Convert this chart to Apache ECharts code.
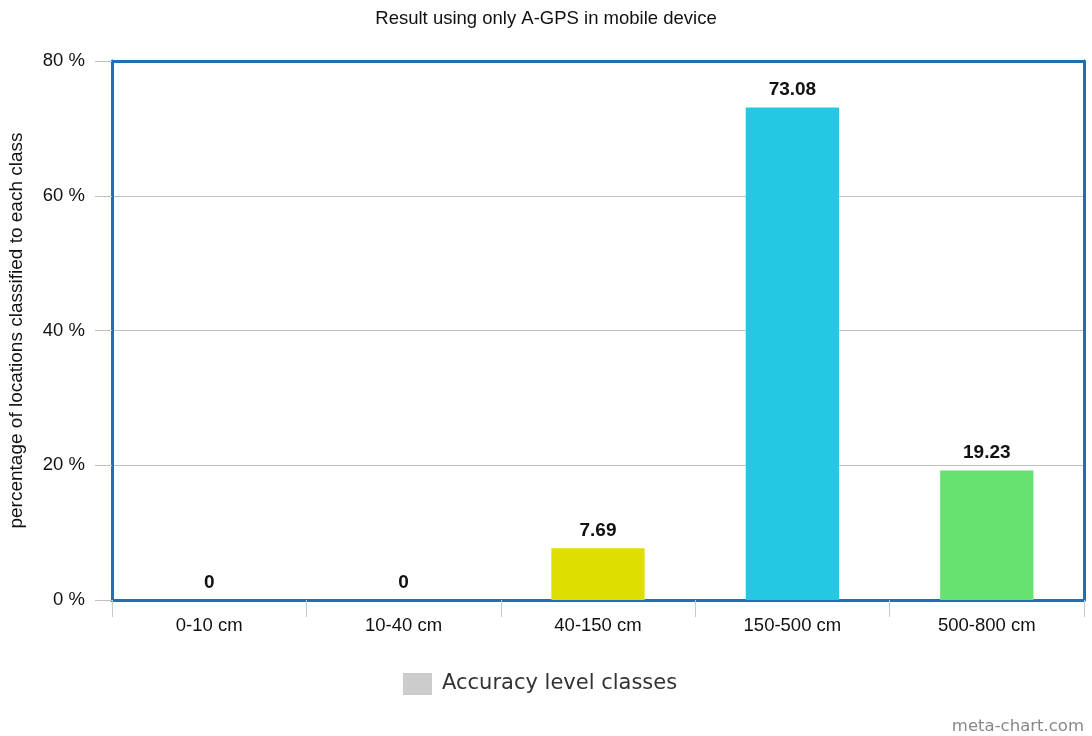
<!DOCTYPE html>
<html>
<head>
<meta charset="utf-8">
<script src="https://cdn.jsdelivr.net/npm/echarts@6/dist/echarts.min.js"></script>
<style>
  html, body { margin: 0; padding: 0; background: #fff; }
  #chart { width: 1092px; height: 736px; }
</style>
</head>
<body>
<div id="chart"></div>
<script>
// Accuracy classes and the share of locations falling in each one
const categories = ['0-10 cm', '10-40 cm', '40-150 cm', '150-500 cm', '500-800 cm'];
const percentages = [0, 0, 7.69, 73.08, 19.23];
const barColors = ['#dede00', '#dede00', '#dede00', '#24c8e2', '#66e271'];
const yTicks = [0, 20, 40, 60, 80];

const FRAME = '#1f6fb5';
const chart = echarts.init(document.getElementById('chart'));

// the plot frame is drawn with four axis lines (bottom, left, top, right)
const frameLine = { show: true, onZero: false, lineStyle: { color: FRAME, width: 3 } };

chart.setOption({
  backgroundColor: '#ffffff',
  animation: false,
  title: {
    text: 'Result using only A-GPS in mobile device',
    left: 'center',
    top: 4,
    textStyle: { fontFamily: 'Liberation Sans', fontSize: 18.5, fontWeight: 'normal', color: '#111' }
  },
  legend: {
    data: ['Accuracy level classes'],
    bottom: 36,
    left: 398,
    icon: 'rect',
    itemWidth: 29,
    itemHeight: 22,
    itemGap: 10,
    textStyle: { fontFamily: 'DejaVu Sans', fontSize: 21, color: '#333', padding: [0, 0, 0, 5] }
  },
  graphic: [{
    type: 'text',
    right: 8,
    bottom: 1,
    style: { text: 'meta-chart.com', font: '16.5px "DejaVu Sans"', fill: '#888' }
  }],
  grid: {
    left: 112,
    right: 8,
    top: 61,
    bottom: 136,
    outerBoundsMode: 'none'
  },
  xAxis: [{
    type: 'category',
    data: categories,
    position: 'bottom',
    axisLine: frameLine,
    axisTick: { show: true, length: 17, lineStyle: { color: '#c8c8c8', width: 1 } },
    axisLabel: { margin: 16, fontFamily: 'Liberation Sans', fontSize: 18.5, color: '#111' }
  }, {
    type: 'category',
    data: categories,
    position: 'top',
    axisLine: frameLine,
    axisTick: { show: false },
    axisLabel: { show: false },
    splitLine: { show: false }
  }],
  yAxis: [{
    type: 'value',
    min: 0,
    max: 80,
    interval: 20,
    position: 'left',
    name: 'percentage of locations classified to each class',
    nameLocation: 'middle',
    nameGap: 86,
    nameTextStyle: { fontFamily: 'Liberation Sans', fontSize: 19, color: '#111' },
    axisLine: frameLine,
    axisTick: { show: true, length: 17, lineStyle: { color: '#c0c0c0', width: 1 } },
    axisLabel: {
      margin: 27,
      fontFamily: 'Liberation Sans',
      fontSize: 18.5,
      color: '#111',
      formatter: v => (yTicks.includes(v) ? v + ' %' : '')
    },
    splitLine: { show: true, lineStyle: { color: '#c0c0c0', width: 1 } }
  }, {
    type: 'value',
    min: 0,
    max: 80,
    interval: 20,
    position: 'right',
    axisLine: frameLine,
    axisTick: { show: false },
    axisLabel: { show: false },
    splitLine: { show: false }
  }],
  series: [{
    name: 'Accuracy level classes',
    type: 'bar',
    xAxisIndex: 0,
    yAxisIndex: 0,
    barWidth: '48%',
    itemStyle: { color: '#cccccc' },
    data: percentages.map((v, i) => ({ value: v, itemStyle: { color: barColors[i] } })),
    label: {
      show: true,
      position: 'top',
      distance: 8,
      fontFamily: 'Liberation Sans',
      fontSize: 19,
      fontWeight: 'bold',
      color: '#111',
      formatter: p => String(p.value)
    }
  }]
});
</script>
</body>
</html>
